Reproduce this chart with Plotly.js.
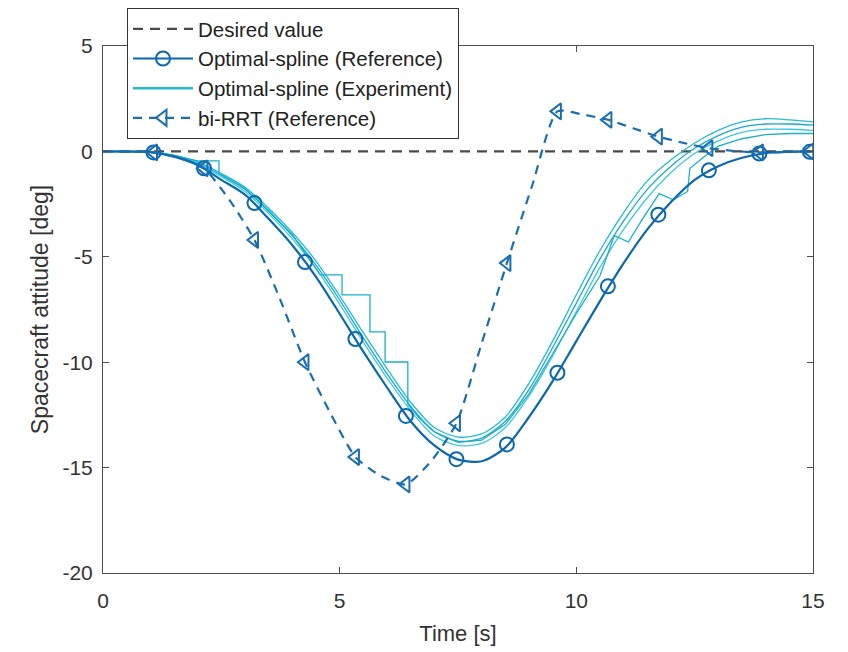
<!DOCTYPE html>
<html>
<head>
<meta charset="utf-8">
<script src="https://cdn.plot.ly/plotly-3.0.1.min.js"></script>
<style>html,body{margin:0;padding:0;background:#fff;}#chart{width:848px;height:652px;}</style>
</head>
<body>
<div id="chart"></div>
<script>
// ---- Data ----
var desiredT = [0, 15];
var desiredY = [0, 0];

// Optimal-spline (Reference) line
var refT = [0,0.5,1,1.5,2,2.5,3,3.5,4,4.5,5,5.5,6,6.5,7,7.5,8,8.5,9,9.5,10,10.5,11,11.5,12,12.5,13,13.5,14,14.5,15];
var refY = [0,-0.01,-0.04,-0.25,-0.65,-1.35,-2.05,-3.2,-4.45,-5.95,-7.7,-9.5,-11.2,-12.8,-13.95,-14.62,-14.7,-14.05,-12.6,-10.9,-9.0,-7.1,-5.3,-3.7,-2.4,-1.35,-0.7,-0.3,-0.08,-0.02,0];
// Optimal-spline (Reference) markers
var refMkT = [1.067,2.133,3.2,4.267,5.333,6.4,7.467,8.533,9.6,10.667,11.733,12.8,13.867,14.933];
var refMkY = [-0.05,-0.8,-2.45,-5.25,-8.9,-12.55,-14.6,-13.9,-10.5,-6.4,-3.0,-0.9,-0.1,-0.02];

// Optimal-spline (Experiment) runs
var expT = [0,0.5,1,1.5,2,2.5,3,3.5,4,4.5,5,5.5,6,6.5,7,7.5,8,8.5,9,9.5,10,10.5,11,11.5,12,12.5,13,13.5,14,14.5,15];
var exp1Y = [0,0,-0.02,-0.18,-0.5,-1.05,-1.7,-2.7,-3.85,-5.2,-6.85,-8.6,-10.3,-11.9,-13.1,-13.55,-13.4,-12.6,-11.0,-9.0,-6.8,-4.7,-2.9,-1.4,-0.4,0.4,1.0,1.4,1.55,1.5,1.4];
var exp2Y = [0,0,-0.03,-0.2,-0.55,-1.12,-1.8,-2.85,-4.0,-5.4,-7.05,-8.85,-10.55,-12.1,-13.3,-13.75,-13.6,-12.8,-11.3,-9.3,-7.2,-5.1,-3.3,-1.8,-0.7,0.15,0.75,1.15,1.3,1.3,1.25];
var exp3Y = [0,-0.01,-0.03,-0.22,-0.6,-1.2,-1.9,-2.95,-4.15,-5.55,-7.25,-9.05,-10.75,-12.3,-13.5,-13.95,-13.85,-13.1,-11.6,-9.7,-7.6,-5.5,-3.7,-2.2,-1.0,-0.1,0.5,0.9,1.05,1.05,1.0];
// run with sampled (stair-like) segments
var exp4T = [0,0.5,1,1.5,2,2.45,2.45,3,3.5,4,4.3,4.59,5.05,5.05,5.64,5.64,5.96,5.96,6.44,6.44,6.7,7,7.5,8,8.5,9,9.5,10,10.5,10.8,11.1,11.4,11.75,12.05,12.35,12.4,12.7,13,13.5,14,14.5,15];
var exp4Y = [0,0,-0.02,-0.2,-0.45,-0.45,-1.05,-1.75,-2.8,-3.95,-4.9,-5.86,-5.86,-6.81,-6.81,-8.56,-8.56,-9.99,-9.99,-12.0,-12.7,-13.3,-13.8,-13.7,-12.95,-11.5,-9.6,-7.7,-5.9,-4.0,-4.3,-3.2,-2.0,-2.3,-1.9,-0.8,-0.25,0.25,0.6,0.8,0.85,0.85];

// bi-RRT (Reference)
var rrtT = [0,0.5,1.067,1.6,2.133,2.67,3.2,3.73,4.267,4.8,5.333,5.87,6.4,6.93,7.467,8.0,8.533,9.07,9.6,10.13,10.667,11.2,11.733,12.27,12.8,13.33,13.867,14.4,14.933,15];
var rrtY = [0,0,-0.05,-0.3,-0.8,-2.3,-4.2,-6.95,-10.0,-12.4,-14.5,-15.4,-15.8,-14.7,-12.9,-9.1,-5.3,-1.6,1.9,1.75,1.5,1.1,0.7,0.4,0.15,0.02,-0.05,-0.03,0,0];
var rrtMkT = [1.067,2.133,3.2,4.267,5.333,6.4,7.467,8.533,9.6,10.667,11.733,12.8,13.867,14.933];
var rrtMkY = [-0.05,-0.8,-4.2,-10.0,-14.5,-15.8,-12.9,-5.3,1.9,1.5,0.7,0.15,-0.05,0];

var xTicks = [0,5,10,15];
var xTickText = ['0','5','10','15'];
var yTicks = [-20,-15,-10,-5,0,5];
var yTickText = ['-20','-15','-10','-5','0','5'];

var legendNames = ['Desired value','Optimal-spline (Reference)','Optimal-spline (Experiment)','bi-RRT (Reference)'];

// ---- Styles ----
var cRef = '#0b68b0';
var cRrt = '#1a6db3';
var cGray = '#4a4a4a';
var cExp = ['#25bcd0','#1aa6d6','#3cc8e2','#16b2c6'];

var traces = [];
traces.push({x:desiredT, y:desiredY, mode:'lines', line:{color:cGray, width:2.2, dash:'10px,7px'}, showlegend:false, hoverinfo:'skip'});
traces.push({x:expT, y:exp1Y, mode:'lines', line:{color:cExp[0], width:1.3, shape:'spline', smoothing:0.8}, showlegend:false, hoverinfo:'skip'});
traces.push({x:expT, y:exp2Y, mode:'lines', line:{color:cExp[1], width:1.3, shape:'spline', smoothing:0.8}, showlegend:false, hoverinfo:'skip'});
traces.push({x:expT, y:exp3Y, mode:'lines', line:{color:cExp[2], width:1.3, shape:'spline', smoothing:0.8}, showlegend:false, hoverinfo:'skip'});
traces.push({x:exp4T, y:exp4Y, mode:'lines', line:{color:cExp[3], width:1.3}, showlegend:false, hoverinfo:'skip'});
traces.push({x:refT, y:refY, mode:'lines', line:{color:cRef, width:2.2, shape:'spline', smoothing:0.8}, showlegend:false, hoverinfo:'skip'});
traces.push({x:refMkT, y:refMkY, mode:'markers', marker:{symbol:'circle-open', size:14, color:cRef, line:{width:2, color:cRef}}, showlegend:false, hoverinfo:'skip'});
traces.push({x:rrtT, y:rrtY, mode:'lines', line:{color:cRrt, width:2.2, dash:'9px,7px', shape:'spline', smoothing:0.6}, showlegend:false, hoverinfo:'skip'});
traces.push({x:rrtMkT, y:rrtMkY, mode:'markers', marker:{symbol:'triangle-left-open', size:14, color:cRrt, line:{width:2, color:cRrt}}, showlegend:false, hoverinfo:'skip'});

// legend entries
traces.push({x:[null], y:[null], name:legendNames[0], mode:'lines', line:{color:cGray, width:2.2, dash:'10px,7px'}, legendgroup:'a', legendrank:1});
traces.push({x:[null], y:[null], name:legendNames[1], mode:'lines+markers', line:{color:cRef, width:2.2}, marker:{symbol:'circle-open', size:14, color:cRef, line:{width:2, color:cRef}}, legendgroup:'b', legendrank:2});
traces.push({x:[null], y:[null], name:legendNames[2], mode:'lines', line:{color:cExp[0], width:2.5}, legendgroup:'c', legendrank:3});
traces.push({x:[null], y:[null], name:legendNames[3], mode:'lines+markers', line:{color:cRrt, width:2.2, dash:'9px,7px'}, marker:{symbol:'triangle-left-open', size:14, color:cRrt, line:{width:2, color:cRrt}}, legendgroup:'d', legendrank:4});

var axisCommon = {
  ticks:'inside', ticklen:6, tickwidth:1, tickcolor:'#4d4d4d',
  showline:true, linecolor:'#4d4d4d', linewidth:1, mirror:'ticks',
  showgrid:false, zeroline:false, fixedrange:true, automargin:false,
  tickfont:{size:21, color:'#333'}
};

var layout = {
  width:848, height:652,
  margin:{l:103, r:35, t:46, b:79, autoexpand:false},
  paper_bgcolor:'#ffffff', plot_bgcolor:'#ffffff',
  font:{family:'"Liberation Sans", Arial, sans-serif', size:20, color:'#333'},
  xaxis:Object.assign({}, axisCommon, {range:[0,15], tickmode:'array', tickvals:xTicks, ticktext:xTickText,
    ticklabelstandoff:9,
    title:{text:'Time [s]', font:{size:22, color:'#333'}, standoff:14}}),
  yaxis:Object.assign({}, axisCommon, {range:[-20,5], tickmode:'array', tickvals:yTicks, ticktext:yTickText,
    ticklabelstandoff:5,
    title:{text:'Spacecraft attitude [deg]', font:{size:23, color:'#333'}, standoff:7}}),
  legend:{x:0.0338, y:1.0721, xanchor:'left', yanchor:'top', bgcolor:'#ffffff', bordercolor:'#333', borderwidth:1,
    font:{size:20.5, color:'#222'}, itemwidth:60, tracegroupgap:0, traceorder:'grouped'},
  showlegend:true
};

Plotly.newPlot('chart', traces, layout, {displayModeBar:false, staticPlot:true});
</script>
</body>
</html>
